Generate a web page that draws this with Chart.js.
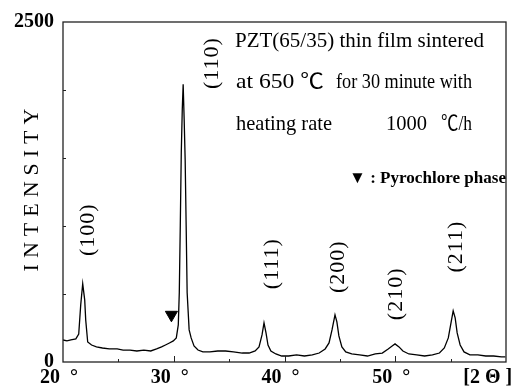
<!DOCTYPE html>
<html>
<head>
<meta charset="utf-8">
<script src="https://cdn.jsdelivr.net/npm/chart.js@4.4.1/dist/chart.umd.min.js"></script>
<style>
  html, body { margin: 0; padding: 0; background: #fff; }
  #wrap { width: 514px; height: 386px; }
</style>
</head>
<body>
<div id="wrap"><canvas id="c" width="514" height="386"></canvas></div>
<script>
const twoTheta = [20.00,20.36,20.71,21.16,21.42,21.60,21.78,21.96,22.05,22.23,22.58,23.02,23.56,24.18,24.89,25.43,26.05,26.67,27.30,27.92,28.45,28.90,29.25,29.61,29.96,30.23,30.41,30.50,30.59,30.68,30.77,30.85,30.94,31.03,31.12,31.21,31.39,31.57,31.83,32.19,32.63,33.26,33.97,34.68,35.39,36.19,36.81,37.35,37.70,37.97,38.15,38.33,38.51,38.77,39.22,39.75,40.37,41.09,41.80,42.51,43.13,43.67,44.02,44.29,44.56,44.73,44.91,45.18,45.53,46.07,46.78,47.49,48.20,48.83,49.36,49.72,49.98,50.34,50.69,51.23,51.94,52.65,53.36,53.99,54.43,54.79,55.05,55.23,55.41,55.59,55.86,56.21,56.74,57.46,58.17,58.88,59.59,59.95];
const intensity = [162,155,162,170,206,420,575,457,310,147,125,111,103,96,96,88,88,81,88,81,96,111,125,140,155,177,273,509,1003,1541,1858,2043,1785,1490,1003,509,236,177,118,88,74,74,81,81,74,66,66,81,111,199,288,214,125,81,59,44,44,52,44,52,66,96,140,236,347,295,192,111,74,59,52,44,59,66,96,118,133,111,81,59,52,44,52,66,103,177,295,376,324,214,125,74,52,52,44,44,37,37];

// pyrochlore marker
const pyroX = [29.79];
const pyroY = [347];

// peak (hkl) labels, anchored in data coordinates
const peakLabels = ['(100)','(110)','(111)','(200)','(210)','(211)'];
const peakLabelX = [22.31,33.45,38.86,44.82,50.07,55.50];
const peakLabelY = [973,2198,723,701,501,848];

// axis tick labels
const xTickValues = [20,25,30,35,40,45,50,55];
const xTickText = {20:'20  \u00B0',30:'30  \u00B0',40:'40  \u00B0',50:'50  \u00B0'};
const xUnitLabel = '[2 \u0398 ]';
const xUnitAt = 58.35;
const yTickText = {0:'0',2500:'2500'};

// legend text block: text, x offset from plot left, baseline offset from plot top, width
const legendText = ['PZT(65/35) thin film sintered','at 650 \u2103','for 30 minute with','heating rate','1000','\u2103/h'];
const legendDx = [172,173,273,173,323,378];
const legendDy = [25,66,66,108,108,108];
const legendW = [249,88,136,96,41,31];
const pyroLegend = '\u25BC : Pyrochlore phase';
const yTitle = 'INTENSITY';

const SERIF = '"Liberation Serif", "Noto Sans CJK JP", "DejaVu Serif", serif';

function fitText(ctx, t, x, y, w) {
  const m = ctx.measureText(t).width;
  ctx.save();
  ctx.translate(x, y);
  ctx.scale(w / m, 1);
  ctx.fillText(t, 0, 0);
  ctx.restore();
}

const decor = {
  id: 'decor',
  afterDraw(chart) {
    const {ctx, chartArea: a, scales: {x, y}} = chart;
    ctx.save();
    // frame
    ctx.strokeStyle = '#222';
    ctx.lineWidth = 1.3;
    ctx.strokeRect(a.left, a.top, a.right - a.left, a.bottom - a.top);
    // inward tick marks
    ctx.lineWidth = 1;
    ctx.beginPath();
    [25,30,35,40,45,50,55].forEach(v => {
      const px = Math.round(x.getPixelForValue(v)) + 0.5;
      const len = (v % 10 === 0) ? 6 : 3;
      ctx.moveTo(px, a.bottom); ctx.lineTo(px, a.bottom - len);
    });
    [500,1000,1500,2000].forEach(v => {
      const py = Math.round(y.getPixelForValue(v)) + 0.5;
      ctx.moveTo(a.left, py); ctx.lineTo(a.left + 3, py);
    });
    ctx.stroke();

    ctx.fillStyle = '#000';
    // x unit label
    ctx.font = 'bold 20px ' + SERIF;
    ctx.textAlign = 'center';
    ctx.textBaseline = 'alphabetic';
    ctx.fillText(xUnitLabel, x.getPixelForValue(xUnitAt), a.bottom + 21);

    // y title
    ctx.save();
    ctx.translate(32, (a.top + a.bottom) / 2 - 2);
    ctx.rotate(-Math.PI / 2);
    ctx.font = '22px ' + SERIF;
    ctx.letterSpacing = '6px';
    ctx.textAlign = 'center';
    ctx.textBaseline = 'middle';
    ctx.fillText(yTitle, 3, 0);
    ctx.restore();

    // peak labels
    ctx.font = '22px ' + SERIF;
    ctx.letterSpacing = '1px';
    ctx.textAlign = 'center';
    ctx.textBaseline = 'middle';
    peakLabels.forEach((t, i) => {
      ctx.save();
      ctx.translate(x.getPixelForValue(peakLabelX[i]), y.getPixelForValue(peakLabelY[i]));
      ctx.rotate(-Math.PI / 2);
      ctx.fillText(t, 0, 0);
      ctx.restore();
    });
    ctx.letterSpacing = '0px';

    // legend text block
    ctx.textAlign = 'left';
    ctx.textBaseline = 'alphabetic';
    ctx.font = '21px ' + SERIF;
    legendText.forEach((t, i) => fitText(ctx, t, a.left + legendDx[i], a.top + legendDy[i], legendW[i]));
    ctx.font = 'bold 17px ' + SERIF;
    fitText(ctx, pyroLegend, a.left + 286, a.top + 161, 157);
    ctx.restore();
  }
};

new Chart(document.getElementById('c'), {
  type: 'scatter',
  data: {
    datasets: [
      {
        data: twoTheta.map((v, i) => ({x: v, y: intensity[i]})),
        showLine: true,
        borderColor: '#000',
        borderWidth: 1.3,
        pointRadius: 0,
        tension: 0
      },
      {
        data: pyroX.map((v, i) => ({x: v, y: pyroY[i]})),
        pointStyle: 'triangle',
        rotation: 180,
        pointRadius: 7,
        backgroundColor: '#000',
        borderColor: '#000',
        borderWidth: 1
      }
    ]
  },
  options: {
    responsive: false,
    animation: false,
    events: [],
    layout: { padding: { top: 22, right: 1, left: 0, bottom: 0 } },
    plugins: { legend: { display: false }, tooltip: { enabled: false } },
    scales: {
      x: {
        type: 'linear', min: 20, max: 60,
        grid: { display: false, drawTicks: false },
        border: { display: false },
        afterBuildTicks: s => { s.ticks = xTickValues.map(v => ({value: v})); },
        afterFit: s => { s.height = 24; },
        ticks: {
          autoSkip: false, maxRotation: 0, padding: 4, labelOffset: -4,
          color: '#000',
          font: { family: SERIF, size: 20, weight: 'bold' },
          callback: v => xTickText[v] || ''
        }
      },
      y: {
        type: 'linear', min: 0, max: 2500,
        grid: { display: false, drawTicks: false },
        border: { display: false },
        afterBuildTicks: s => { s.ticks = [0,500,1000,1500,2000,2500].map(v => ({value: v})); },
        afterFit: s => { s.width = 63; },
        ticks: {
          padding: 9, color: '#000',
          font: { family: SERIF, size: 20, weight: 'bold' },
          callback: v => yTickText[v] || ''
        }
      }
    }
  },
  plugins: [decor]
});
</script>
</body>
</html>
